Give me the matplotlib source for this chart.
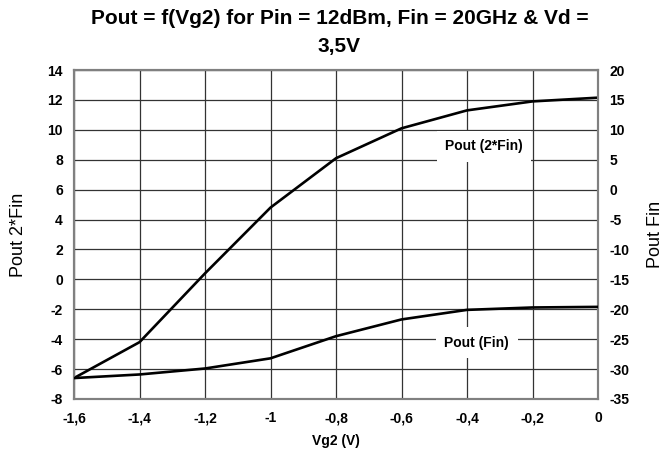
import matplotlib.pyplot as plt
from matplotlib.ticker import FuncFormatter

plt.rcParams['font.family'] = ['Liberation Sans', 'DejaVu Sans']

vg2 = [-1.6, -1.4, -1.2, -1.0, -0.8, -0.6, -0.4, -0.2, 0.0]
pout_2fin = [-6.6, -4.2, 0.4, 4.8, 8.1, 10.1, 11.3, 11.9, 12.15]
pout_fin = [-31.5, -30.9, -29.9, -28.2, -24.5, -21.7, -20.1, -19.7, -19.6]

left_ticks = list(range(-8, 15, 2))
right_ticks = list(range(-35, 21, 5))
x_ticks = [-1.6, -1.4, -1.2, -1.0, -0.8, -0.6, -0.4, -0.2, 0.0]


def comma(v, pos):
    s = "%g" % v
    if s == "-0":
        s = "0"
    return s.replace(".", ",")


fig = plt.figure(figsize=(6.72, 4.55), dpi=100)
ax = fig.add_subplot(111)
fig.subplots_adjust(left=74 / 672, right=598 / 672, top=1 - 70 / 455, bottom=1 - 399 / 455)
ax2 = ax.twinx()

ax.set_xlim(-1.6, 0)
ax.set_ylim(-8, 14)
ax2.set_ylim(-35, 20)

ax.set_xticks(x_ticks)
ax.set_yticks(left_ticks)
ax2.set_yticks(right_ticks)
ax.xaxis.set_major_formatter(FuncFormatter(comma))
ax.yaxis.set_major_formatter(FuncFormatter(comma))
ax2.yaxis.set_major_formatter(FuncFormatter(comma))

ax.grid(True, color="#333333", linewidth=0.9)
ax.set_axisbelow(True)

ax.plot(vg2, pout_2fin, color="black", linewidth=1.9, zorder=3)
ax2.plot(vg2, pout_fin, color="black", linewidth=1.9, zorder=3)

for a in (ax, ax2):
    for sp in a.spines.values():
        sp.set_color("#808080")
        sp.set_linewidth(1.5)
    a.tick_params(length=0, labelsize=10)
    for lbl in a.get_xticklabels() + a.get_yticklabels():
        lbl.set_fontweight("bold")

ax.tick_params(axis="x", pad=9)
ax.tick_params(axis="y", pad=8)
ax2.tick_params(axis="y", pad=8)

ax.text(-0.348, 8.9, "Pout (2*Fin)", ha="center", va="center", fontsize=10,
        fontweight="bold", zorder=4,
        bbox=dict(facecolor="white", edgecolor="none", pad=6))
ax2.text(-0.37, -25.6, "Pout (Fin)", ha="center", va="center", fontsize=10,
         fontweight="bold", zorder=4,
         bbox=dict(facecolor="white", edgecolor="none", pad=6))

ax.set_xlabel("Vg2 (V)", fontsize=10, fontweight="bold", labelpad=6)
ax.set_ylabel("Pout 2*Fin", fontsize=13, labelpad=15)
ax2.set_ylabel("Pout Fin", fontsize=13, labelpad=13)

fig.suptitle("Pout = f(Vg2) for Pin = 12dBm, Fin = 20GHz & Vd =\n3,5V",
             fontsize=15, fontweight="bold", x=0.505, y=1 - 9 / 455, va="top",
             linespacing=1.6)

plt.savefig("out.png", dpi=100)
plt.close()
